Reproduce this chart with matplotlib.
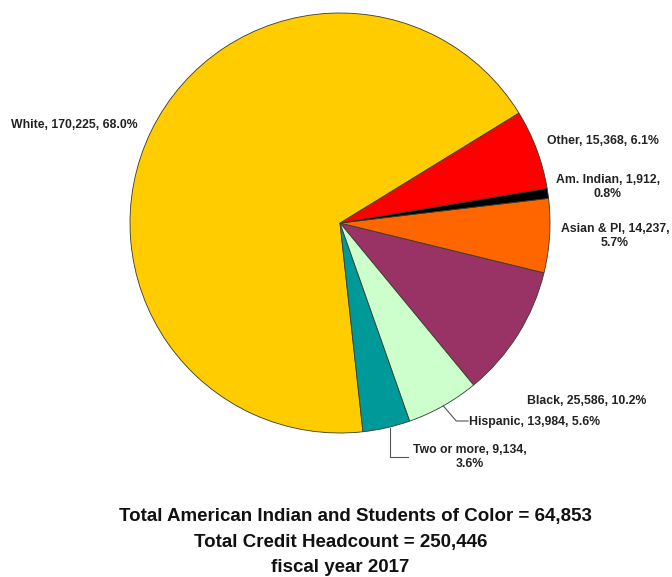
import numpy as np
import matplotlib
matplotlib.use("Agg")
import matplotlib.pyplot as plt

plt.rcParams['font.family'] = ['Liberation Sans', 'DejaVu Sans']

# headcount by group, counterclockwise starting at the lower right
groups = ['Black', 'Asian & PI', 'Am. Indian', 'Other', 'White', 'Two or more', 'Hispanic']
counts = [25586, 14237, 1912, 15368, 170225, 9134, 13984]
colors = ['#993366', '#FF6600', '#000000', '#FF0000', '#FFCC00', '#009999', '#CCFFCC']
wrap = {'Am. Indian', 'Asian & PI', 'Two or more'}

total_credit = sum(counts)
total_color = total_credit - counts[groups.index('White')] - counts[groups.index('Other')]

W, H = 672, 577
fig = plt.figure(figsize=(W / 100, H / 100), dpi=100)
ax = fig.add_axes([0, 0, 1, 1])

cx, cy, r = 340, H - 223, 210
wedges, _ = ax.pie(counts, colors=colors, startangle=-50.5, counterclock=True,
                   center=(cx, cy), radius=r,
                   wedgeprops=dict(edgecolor='#3a3a2a', linewidth=0.6))

ax.set_xlim(0, W)
ax.set_ylim(0, H)
ax.set_aspect('equal')
ax.axis('off')

# label anchor: (x, y from top, ha)
label_pos = {
    'White': (138, 125, 'right'),
    'Other': (547, 141, 'left'),
    'Am. Indian': (608, 187, 'center'),
    'Asian & PI': (615, 236, 'center'),
    'Black': (527, 401, 'left'),
    'Hispanic': (469, 422, 'left'),
    'Two or more': (470, 457, 'center'),
}

for name, n in zip(groups, counts):
    pct = 100 * n / total_credit
    sep = ',\n' if name in wrap else ', '
    txt = f'{name}, {n:,}{sep}{pct:.1f}%'
    x, y, ha = label_pos[name]
    ax.text(x, H - y, txt, ha=ha, va='center', multialignment='center',
            fontsize=8.8, fontweight='bold', color='#222222', linespacing=1.3)


def edge_point(name):
    w = wedges[groups.index(name)]
    mid = np.deg2rad((w.theta1 + w.theta2) / 2)
    return cx + r * np.cos(mid), cy + r * np.sin(mid)


# leader lines for the two small bottom slices
lc = '#555555'
hx, hy = edge_point('Hispanic')
ax.plot([hx, hx + 13, 468], [hy, H - 421, H - 421], color=lc, lw=0.8)
tx, ty = edge_point('Two or more')
ax.plot([tx + 3, tx + 3, 408], [ty, H - 457, H - 457], color=lc, lw=0.8)

ax.text(355, H - 517, f'Total American Indian and Students of Color = {total_color:,}',
        ha='center', va='center', fontsize=13.5, fontweight='bold', color='#111111')
ax.text(341, H - 542, f'Total Credit Headcount = {total_credit:,}',
        ha='center', va='center', fontsize=13.5, fontweight='bold', color='#111111')
ax.text(340, H - 567, 'fiscal year 2017',
        ha='center', va='center', fontsize=13.5, fontweight='bold', color='#111111')

fig.savefig('out.png', dpi=100)
